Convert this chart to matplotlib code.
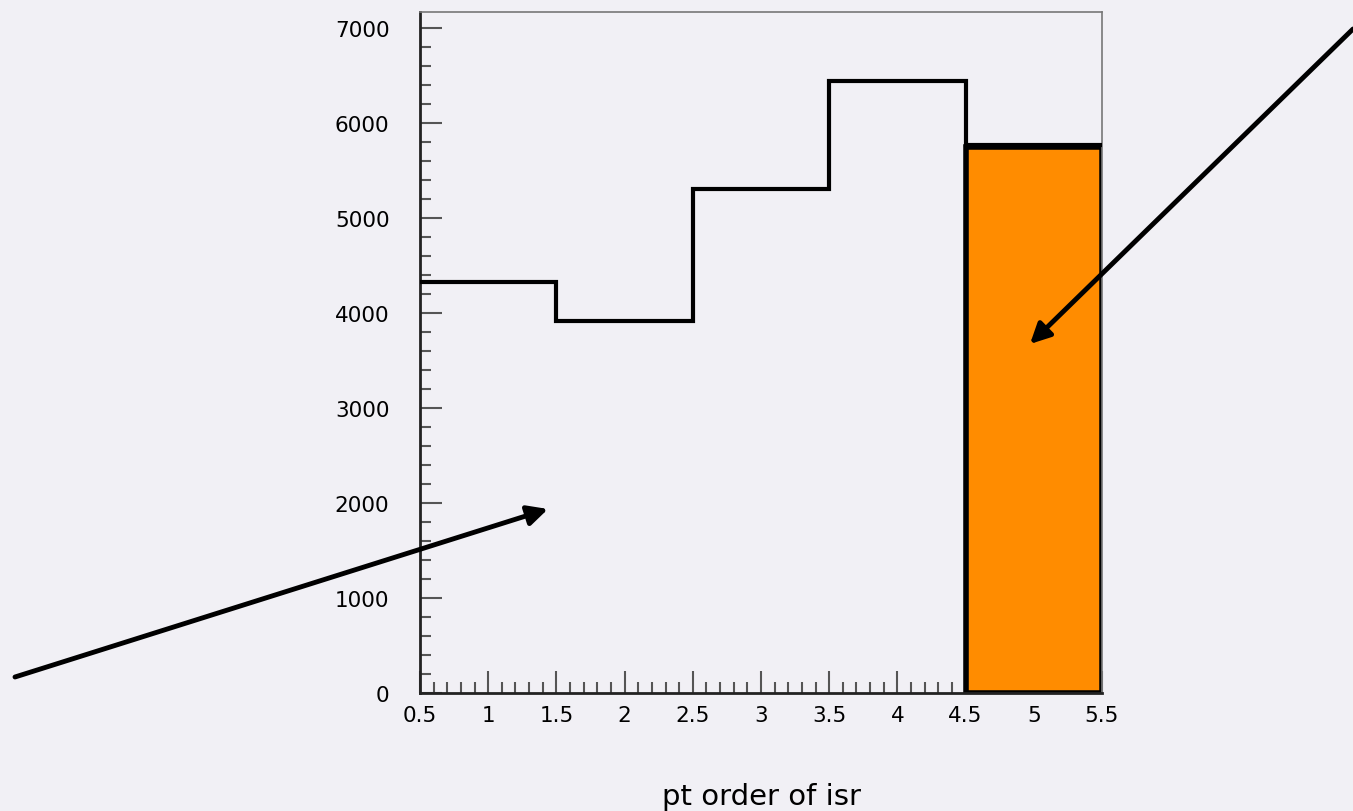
import numpy as np
import matplotlib
matplotlib.use('Agg')
import matplotlib.pyplot as plt
from matplotlib.ticker import MultipleLocator, FormatStrFormatter

# histogram: pt order of isr
bin_edges = [0.5, 1.5, 2.5, 3.5, 4.5, 5.5]
counts = [4329, 3918, 5305, 6445, 5765]

# highlighted bin (filled orange)
hl_left = 4.5
hl_right = 5.5
hl_count = 5745

bg = '#f1f0f5'

fig = plt.figure(figsize=(13.53, 8.12), dpi=100)
fig.patch.set_facecolor(bg)
ax = fig.add_axes([420/1353, 118/812, 682/1353, 681/812])
ax.set_facecolor(bg)

ax.bar(hl_left, hl_count, width=hl_right - hl_left, align='edge',
       color='#ff8c00', edgecolor='black', linewidth=4, zorder=2)
ax.stairs(counts, bin_edges, color='black', linewidth=3, baseline=None, zorder=3)

ax.set_xlim(0.5, 5.5)
ax.set_ylim(0, 7170)

ax.xaxis.set_major_locator(MultipleLocator(0.5))
ax.xaxis.set_minor_locator(MultipleLocator(0.1))
ax.yaxis.set_major_locator(MultipleLocator(1000))
ax.yaxis.set_minor_locator(MultipleLocator(200))
ax.xaxis.set_major_formatter(FormatStrFormatter('%g'))

ax.tick_params(which='both', direction='in', colors='#555555', labelcolor='black',
               top=False, right=False, labelsize=15.5)
ax.tick_params(which='major', length=16, width=1.5)
ax.tick_params(which='minor', length=8, width=1.5)
ax.tick_params(axis='y', pad=22)
ax.tick_params(axis='x', pad=9)

for s in ['left', 'bottom']:
    ax.spines[s].set_linewidth(2)
    ax.spines[s].set_color('#222222')
for s in ['top', 'right']:
    ax.spines[s].set_linewidth(1.2)
    ax.spines[s].set_color('#777777')

ax.set_xlabel('pt order of isr', fontsize=21, va='top')
ax.xaxis.set_label_coords(0.5, -0.13)

arrow = dict(arrowstyle='-|>', lw=3.5, color='black', mutation_scale=30,
             shrinkA=0, shrinkB=0)
ax.annotate('', xy=(548, 302), xycoords='figure pixels',
            xytext=(15, 134), textcoords='figure pixels',
            arrowprops=arrow, annotation_clip=False)
ax.annotate('', xy=(1030, 467), xycoords='figure pixels',
            xytext=(1353, 782), textcoords='figure pixels',
            arrowprops=arrow, annotation_clip=False)

fig.savefig('out.png', dpi=100, facecolor=bg)
